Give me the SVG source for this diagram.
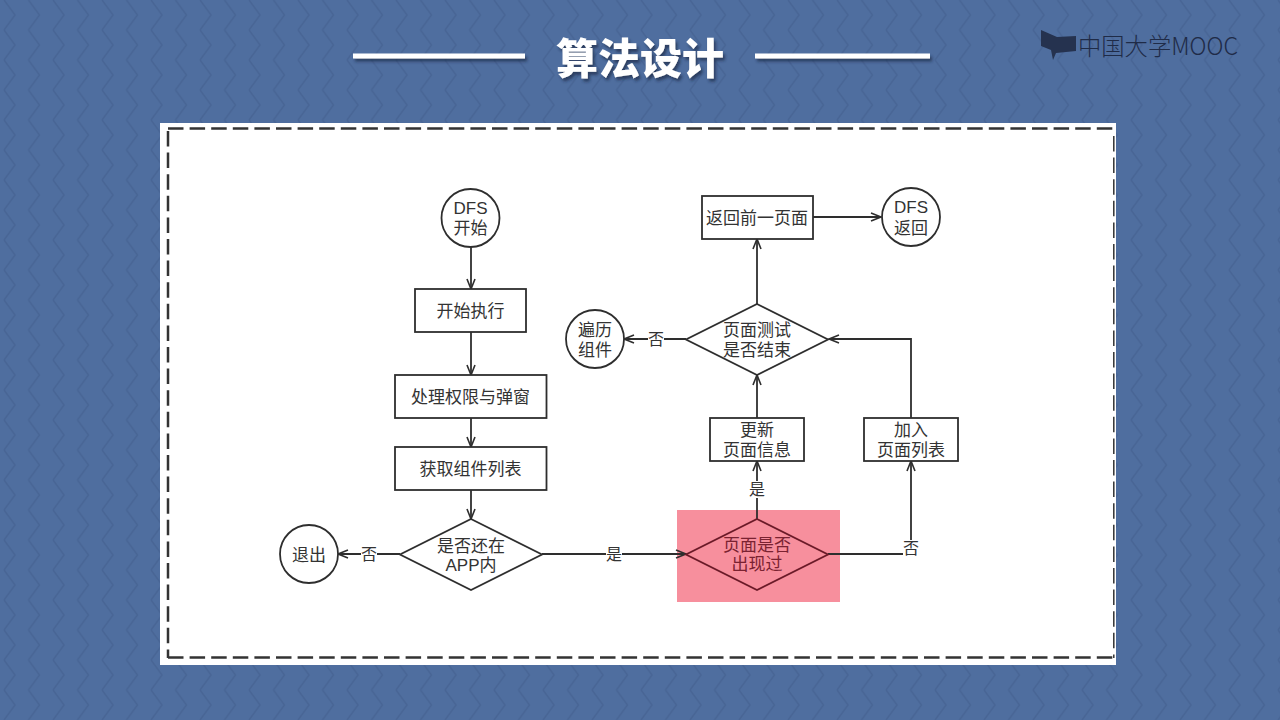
<svg xmlns="http://www.w3.org/2000/svg" width="1280" height="720" viewBox="0 0 1280 720">
<style>
.n{fill:#fff;stroke:#2e2e2e;stroke-width:1.800}
.c{fill:none;stroke:#2e2e2e;stroke-width:1.800;marker-end:url(#a)}
.d{fill:none;stroke:#333;stroke-width:2.500;stroke-dasharray:15.500 6.100}
text{font-family:"Liberation Sans","Noto Sans CJK SC",sans-serif;font-size:17px;fill:#333;text-anchor:middle;dominant-baseline:central}
.l{font-size:16px}
.lb{fill:#fff}
</style>
<defs>
<marker id="a" markerUnits="userSpaceOnUse" markerWidth="14" markerHeight="12" refX="11" refY="6" orient="auto">
<path d="M1,2 L11,6 L1,10" fill="none" stroke="#2e2e2e" stroke-width="1.600"/>
</marker>
<pattern id="z" width="24.500" height="30" patternUnits="userSpaceOnUse">
<rect width="24.500" height="30" fill="#4f6e9f"/>
<path d="M4,0 L15,15 L4,30" fill="none" stroke="#486595" stroke-width="1.500"/>
</pattern>
<filter id="s" x="-10%" y="-30%" width="120%" height="170%"><feDropShadow dx="2" dy="3" stdDeviation="1.500" flood-color="#1c2a45" flood-opacity=".7"/></filter>
</defs>
<rect width="1280" height="720" fill="url(#z)"/>
<g id="title" filter="url(#s)">
<rect x="353" y="53.500" width="172" height="5" fill="#fff"/>
<rect x="755" y="53.500" width="175" height="5" fill="#fff"/>
<text x="640" y="55" style="font-family:'Noto Sans CJK SC',sans-serif;font-size:42px;font-weight:900;fill:#fff">算法设计</text>
</g>
<g id="logo">
<path d="M1041,30 L1057,37 L1076,36 L1076,51 L1056,53 L1053,60 L1051,50 L1041,46Z" fill="#25324f"/>
<text x="1158" y="44" textLength="160" lengthAdjust="spacingAndGlyphs" style="font-family:'Noto Sans CJK SC',sans-serif;font-size:24px;font-weight:300;fill:#1f2b47">中国大学MOOC</text>
</g>
<rect id="panel" x="160" y="123" width="956" height="542" fill="#fff"/>
<g id="dash">
<path class="d" d="M168,128.500H1114"/>
<path class="d" d="M168,131V658"/>
<path class="d" d="M168,657.500H1114"/>
<path class="d" d="M1113.800,136V658" style="stroke-width:1.500"/>
</g>
<rect id="highlight" x="677" y="510" width="163" height="92" fill="#f78f9d"/>
<g id="connectors">
<path class="c" d="M471,247V289"/>
<path class="c" d="M471,332V375"/>
<path class="c" d="M471,418V447"/>
<path class="c" d="M471,490V519"/>
<path class="c" d="M400,554H338"/>
<path class="c" d="M542,554H686"/>
<path class="c" d="M757,519V461"/>
<path class="c" d="M828,554H911V461"/>
<path class="c" d="M757,418V375"/>
<path class="c" d="M911,418V339H829"/>
<path class="c" d="M757,304V239"/>
<path class="c" d="M686,339H624"/>
<path class="c" d="M813,217H881"/>
<g>
<rect class="lb" x="361" y="546" width="16" height="16"/><text class="l" x="369" y="554">否</text>
<rect class="lb" x="606" y="546" width="16" height="16"/><text class="l" x="614" y="554">是</text>
<rect class="lb" x="749" y="481" width="16" height="17"/><text class="l" x="757" y="489">是</text>
<rect class="lb" x="903" y="540" width="16" height="16"/><text class="l" x="911" y="548">否</text>
<rect class="lb" x="648" y="331" width="16" height="16"/><text class="l" x="656" y="339">否</text>
</g>
</g>
<g id="start"><circle class="n" cx="470.500" cy="218" r="29"/><text x="470.500" y="208">DFS</text><text x="470.500" y="228">开始</text></g>
<g id="exec"><rect class="n" x="415" y="289" width="111" height="43"/><text x="470.500" y="311">开始执行</text></g>
<g id="perm"><rect class="n" x="395" y="375" width="151.500" height="43"/><text x="470.500" y="397">处理权限与弹窗</text></g>
<g id="list"><rect class="n" x="395" y="447" width="151.500" height="43"/><text x="470.500" y="469">获取组件列表</text></g>
<g id="inapp"><path class="n" d="M471,519L542,554.500L471,590L400,554.500Z"/><text x="471" y="546">是否还在</text><text x="471" y="565">APP内</text></g>
<g id="exit"><circle class="n" cx="309" cy="554" r="29"/><text x="309" y="555">退出</text></g>
<g id="seen"><path d="M757,519L828,554.500L757,590L686,554.500Z" fill="none" stroke="#6b1a28" stroke-width="1.800"/><text x="757" y="545" style="fill:#7a2231">页面是否</text><text x="757" y="564" style="fill:#7a2231">出现过</text></g>
<g id="update"><rect class="n" x="710" y="418" width="94" height="43"/><text x="757" y="430">更新</text><text x="757" y="450">页面信息</text></g>
<g id="add"><rect class="n" x="864" y="418" width="94" height="43"/><text x="911" y="430">加入</text><text x="911" y="450">页面列表</text></g>
<g id="end"><path class="n" d="M757,304L828,339.500L757,375L686,339.500Z"/><text x="757" y="330">页面测试</text><text x="757" y="350">是否结束</text></g>
<g id="walk"><circle class="n" cx="595" cy="339" r="29"/><text x="595" y="330">遍历</text><text x="595" y="350">组件</text></g>
<g id="back"><rect class="n" x="702" y="196" width="111" height="43"/><text x="757" y="218">返回前一页面</text></g>
<g id="ret"><circle class="n" cx="911" cy="217" r="29"/><text x="911" y="207">DFS</text><text x="911" y="228">返回</text></g>
</svg>
